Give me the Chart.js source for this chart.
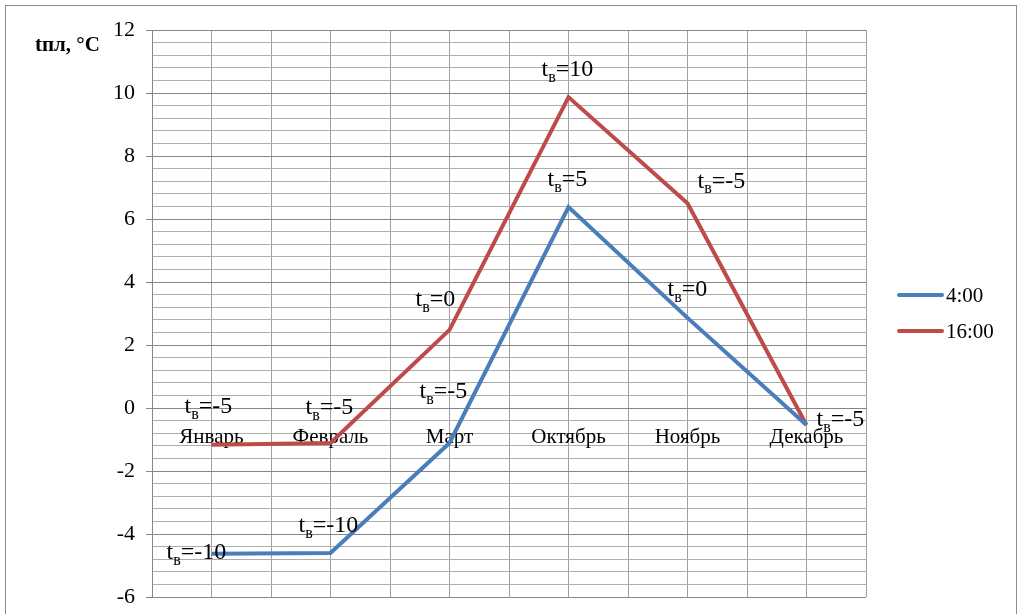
<!DOCTYPE html>
<html>
<head>
<meta charset="utf-8">
<script src="https://cdn.jsdelivr.net/npm/chart.js@4.4.1/dist/chart.umd.min.js"></script>
<style>
html,body{margin:0;padding:0;background:#fff;}
#wrap{position:relative;width:1022px;height:614px;}
canvas{display:block;}
</style>
</head>
<body>
<div id="wrap"><canvas id="c" width="1022" height="614"></canvas></div>
<script>
// ---- data ----
const categories = ['Январь', 'Февраль', 'Март', 'Октябрь', 'Ноябрь', 'Декабрь'];
const series4 = [-4.63, -4.6, -1.11, 6.38, 2.86, -0.54];
const series16 = [-1.17, -1.11, 2.48, 9.87, 6.5, -0.54];
const notes4 = ['-10', '-10', '-5', '5', '0', '-5'];
const notes16 = ['-5', '-5', '0', '10', '-5', null];
const seriesNames = ['4:00', '16:00'];
const yTickValues = [-6, -4, -2, 0, 2, 4, 6, 8, 10, 12];
const yTitle = 'tпл, °C';

// ---- styling / placement (not data) ----
const BLUE = '#4a7ebb', RED = '#be4b48';
const FONT = '"Liberation Serif", "Times New Roman", serif';
// label offsets relative to the point (left x, middle y)
const off4 = [[-45,-1],[-32,-27],[-30,-51],[-21,-27],[-20,-28],[10,-5]];
const off16 = [[-27,-38],[-25,-35],[-34,-30],[-27,-27],[10,-22],null];

const toPts = arr => arr.map((v, i) => ({x: i, y: v}));
const isMajor = v => yTickValues.some(t => Math.abs(t - v) < 1e-6);

const annot = {
  id: 'annot',
  afterDatasetsDraw(chart) {
    const ctx = chart.ctx, xs = chart.scales.x, ys = chart.scales.y;
    ctx.save();
    ctx.fillStyle = '#000';
    ctx.textBaseline = 'middle';
    const drawNote = (i, val, note, o) => {
      if (note === null || !o) return;
      let x = xs.getPixelForValue(i) + o[0];
      const y = ys.getPixelForValue(val) + o[1];
      ctx.font = '24px ' + FONT;
      ctx.fillText('t', x, y);
      x += ctx.measureText('t').width;
      ctx.font = '16px ' + FONT;
      ctx.fillText('в', x, y + 8);
      x += ctx.measureText('в').width;
      ctx.font = '24px ' + FONT;
      ctx.fillText('=' + note, x, y);
    };
    series4.forEach((v, i) => drawNote(i, v, notes4[i], off4[i]));
    series16.forEach((v, i) => drawNote(i, v, notes16[i], off16[i]));

    // y title
    ctx.font = 'bold 21px ' + FONT;
    ctx.textBaseline = 'middle';
    ctx.fillText(yTitle, 35, 46);

    // legend
    const ds = chart.data.datasets;
    ds.forEach((d, k) => {
      const y = 295 + k * 36;
      ctx.strokeStyle = d.borderColor;
      ctx.lineWidth = 4;
      ctx.lineCap = 'round';
      ctx.beginPath();
      ctx.moveTo(899, y); ctx.lineTo(942, y);
      ctx.stroke();
      ctx.font = '21px ' + FONT;
      ctx.fillStyle = '#000';
      ctx.fillText(d.label, 946, y + 1);
    });

    // outer frame
    ctx.strokeStyle = '#8c8c8c';
    ctx.lineWidth = 1;
    ctx.strokeRect(5.5, 5.5, 1011, 640);
    ctx.restore();
  }
};

new Chart(document.getElementById('c'), {
  type: 'line',
  data: {
    datasets: [
      {label: seriesNames[0], data: toPts(series4), borderColor: BLUE, backgroundColor: BLUE,
       borderWidth: 4, pointRadius: 0, tension: 0, borderJoinStyle: 'miter'},
      {label: seriesNames[1], data: toPts(series16), borderColor: RED, backgroundColor: RED,
       borderWidth: 4, pointRadius: 0, tension: 0, borderJoinStyle: 'miter'}
    ]
  },
  options: {
    responsive: false,
    animation: false,
    events: [],
    layout: {padding: {left: 0, top: 30, right: 156, bottom: 17}},
    plugins: {legend: {display: false}, tooltip: {enabled: false}},
    scales: {
      x: {
        type: 'linear',
        position: {y: 0},
        min: -0.5, max: 5.5,
        afterFit: s => { s.paddingTop = 0; s.paddingBottom = 0; s.paddingLeft = 0; s.paddingRight = 0; },
        ticks: {
          stepSize: 0.5,
          autoSkip: false,
          maxRotation: 0,
          padding: 17,
          color: '#000',
          font: {family: FONT, size: 21},
          callback: v => Number.isInteger(v) ? categories[v] : ''
        },
        grid: {color: '#a0a0a0', lineWidth: 1, drawTicks: false},
        border: {display: true, color: '#868686', width: 1}
      },
      y: {
        min: -6, max: 12,
        afterFit: s => { s.width = 152; s.paddingTop = 0; s.paddingBottom = 0; },
        afterBuildTicks: s => {
          const t = [];
          for (let k = 0; k <= 45; k++) t.push({value: Math.round((-6 + k * 0.4) * 10) / 10});
          s.ticks = t;
        },
        ticks: {
          autoSkip: false,
          padding: 11,
          color: '#000',
          font: {family: FONT, size: 22},
          callback: v => isMajor(v) ? String(v) : ''
        },
        grid: {
          color: c => isMajor(c.tick.value) ? '#868686' : '#adadad',
          tickColor: c => isMajor(c.tick.value) ? '#868686' : 'rgba(0,0,0,0)',
          tickLength: 6,
          lineWidth: 1
        },
        border: {display: true, color: '#868686', width: 1}
      }
    }
  },
  plugins: [annot]
});
</script>
</body>
</html>
